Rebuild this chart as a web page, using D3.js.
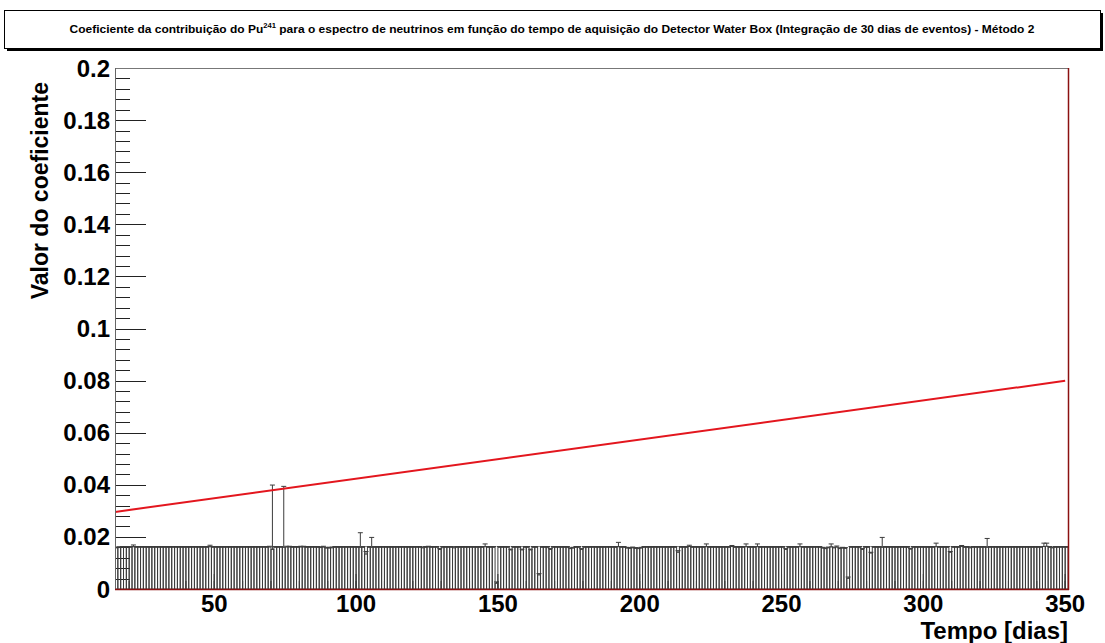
<!DOCTYPE html>
<html><head><meta charset="utf-8">
<script src="https://cdn.jsdelivr.net/npm/d3@7/dist/d3.min.js"></script>
<style>body{margin:0;background:#fff}svg{display:block}text{font-family:"Liberation Sans",Arial,sans-serif;font-weight:bold}</style>
</head><body><svg id="c" width="1105" height="643"></svg>
<script>
// Bins: one per day, starting day 15 (bin [d, d+1))
const firstDay = 15;
const values = [
0.0158,0.0159,0.0160,0.0160,0.0160,0.0160,0.0162,0.0160,0.0160,0.0160,
0.0160,0.0160,0.0160,0.0160,0.0160,0.0160,0.0160,0.0160,0.0160,0.0160,
0.0160,0.0160,0.0160,0.0160,0.0160,0.0160,0.0160,0.0160,0.0160,0.0160,
0.0160,0.0160,0.0160,0.0162,0.0160,0.0160,0.0160,0.0160,0.0160,0.0160,
0.0160,0.0160,0.0160,0.0160,0.0160,0.0160,0.0160,0.0160,0.0160,0.0160,
0.0160,0.0160,0.0160,0.0160,0.0161,0.0152,0.0160,0.0160,0.0160,0.0160,
0.0161,0.0161,0.0160,0.0160,0.0160,0.0161,0.0161,0.0160,0.0160,0.0160,
0.0160,0.0160,0.0159,0.0161,0.0157,0.0157,0.0158,0.0160,0.0160,0.0160,
0.0160,0.0160,0.0160,0.0160,0.0160,0.0160,0.0160,0.0160,0.0134,0.0160,
0.0160,0.0160,0.0160,0.0160,0.0160,0.0160,0.0160,0.0160,0.0160,0.0160,
0.0160,0.0160,0.0160,0.0160,0.0160,0.0160,0.0160,0.0160,0.0158,0.0160,
0.0161,0.0160,0.0160,0.0160,0.0152,0.0160,0.0160,0.0160,0.0160,0.0158,
0.0160,0.0160,0.0160,0.0160,0.0160,0.0160,0.0160,0.0160,0.0160,0.0160,
0.0162,0.0160,0.0160,0.0160,0.0022,0.0160,0.0160,0.0160,0.0160,0.0150,
0.0160,0.0160,0.0160,0.0150,0.0160,0.0160,0.0150,0.0160,0.0160,0.0054,
0.0160,0.0160,0.0160,0.0152,0.0160,0.0160,0.0160,0.0160,0.0160,0.0160,
0.0155,0.0157,0.0160,0.0160,0.0152,0.0160,0.0160,0.0160,0.0160,0.0160,
0.0160,0.0160,0.0160,0.0160,0.0160,0.0160,0.0160,0.0162,0.0160,0.0160,
0.0157,0.0156,0.0158,0.0156,0.0155,0.0157,0.0160,0.0160,0.0160,0.0160,
0.0160,0.0160,0.0160,0.0160,0.0160,0.0160,0.0160,0.0160,0.0141,0.0160,
0.0160,0.0160,0.0163,0.0160,0.0160,0.0160,0.0160,0.0160,0.0162,0.0160,
0.0160,0.0160,0.0160,0.0160,0.0160,0.0160,0.0160,0.0163,0.0160,0.0160,
0.0160,0.0160,0.0162,0.0160,0.0160,0.0160,0.0162,0.0160,0.0160,0.0160,
0.0160,0.0160,0.0160,0.0160,0.0160,0.0160,0.0152,0.0160,0.0160,0.0160,
0.0160,0.0162,0.0160,0.0160,0.0160,0.0160,0.0160,0.0160,0.0160,0.0157,
0.0155,0.0158,0.0162,0.0158,0.0161,0.0155,0.0157,0.0156,0.0041,0.0160,
0.0160,0.0160,0.0160,0.0152,0.0160,0.0160,0.0138,0.0160,0.0160,0.0160,
0.0160,0.0160,0.0160,0.0160,0.0160,0.0160,0.0160,0.0160,0.0160,0.0160,
0.0153,0.0160,0.0160,0.0160,0.0160,0.0160,0.0160,0.0160,0.0160,0.0162,
0.0160,0.0160,0.0160,0.0160,0.0141,0.0160,0.0160,0.0160,0.0163,0.0160,
0.0160,0.0158,0.0160,0.0160,0.0160,0.0160,0.0160,0.0160,0.0160,0.0160,
0.0160,0.0160,0.0160,0.0160,0.0160,0.0160,0.0160,0.0160,0.0160,0.0160,
0.0160,0.0160,0.0160,0.0160,0.0160,0.0160,0.0160,0.0163,0.0164,0.0160,
0.0158,0.0160,0.0160,0.0160,0.0160,0.0160
];
const errors = [
0.0003,0.0003,0.0003,0.0003,0.0003,0.0003,0.0007,0.0003,0.0003,0.0003,
0.0003,0.0003,0.0003,0.0003,0.0003,0.0003,0.0003,0.0003,0.0003,0.0003,
0.0003,0.0003,0.0003,0.0003,0.0003,0.0003,0.0003,0.0003,0.0003,0.0003,
0.0003,0.0003,0.0003,0.0006,0.0003,0.0003,0.0003,0.0003,0.0003,0.0003,
0.0003,0.0003,0.0003,0.0003,0.0003,0.0003,0.0003,0.0003,0.0003,0.0003,
0.0003,0.0003,0.0003,0.0003,0.0003,0.0247,0.0003,0.0003,0.0003,0.0234,
0.0003,0.0003,0.0003,0.0003,0.0003,0.0003,0.0003,0.0003,0.0003,0.0003,
0.0003,0.0003,0.0003,0.0003,0.0003,0.0003,0.0003,0.0003,0.0003,0.0003,
0.0003,0.0003,0.0003,0.0003,0.0003,0.0003,0.0056,0.0003,0.0010,0.0003,
0.0038,0.0003,0.0003,0.0003,0.0003,0.0003,0.0003,0.0003,0.0003,0.0003,
0.0003,0.0003,0.0003,0.0003,0.0003,0.0003,0.0003,0.0003,0.0003,0.0003,
0.0003,0.0003,0.0003,0.0003,0.0003,0.0003,0.0003,0.0003,0.0003,0.0004,
0.0003,0.0003,0.0003,0.0003,0.0003,0.0003,0.0003,0.0003,0.0003,0.0003,
0.0011,0.0003,0.0003,0.0003,0.0005,0.0003,0.0003,0.0003,0.0003,0.0003,
0.0003,0.0003,0.0003,0.0003,0.0003,0.0003,0.0003,0.0003,0.0003,0.0005,
0.0003,0.0003,0.0003,0.0003,0.0003,0.0003,0.0003,0.0003,0.0003,0.0003,
0.0003,0.0003,0.0003,0.0003,0.0003,0.0003,0.0003,0.0003,0.0003,0.0003,
0.0003,0.0003,0.0003,0.0003,0.0003,0.0003,0.0003,0.0017,0.0003,0.0003,
0.0003,0.0003,0.0003,0.0003,0.0003,0.0003,0.0003,0.0003,0.0003,0.0003,
0.0003,0.0003,0.0003,0.0003,0.0003,0.0003,0.0003,0.0003,0.0006,0.0003,
0.0003,0.0003,0.0005,0.0003,0.0003,0.0003,0.0003,0.0003,0.0011,0.0003,
0.0003,0.0003,0.0003,0.0003,0.0003,0.0003,0.0003,0.0004,0.0003,0.0003,
0.0003,0.0003,0.0011,0.0003,0.0003,0.0003,0.0011,0.0003,0.0003,0.0003,
0.0003,0.0003,0.0003,0.0003,0.0003,0.0003,0.0003,0.0003,0.0003,0.0003,
0.0003,0.0011,0.0003,0.0003,0.0003,0.0003,0.0003,0.0003,0.0003,0.0003,
0.0003,0.0003,0.0011,0.0003,0.0004,0.0003,0.0003,0.0003,0.0005,0.0003,
0.0003,0.0003,0.0003,0.0003,0.0003,0.0003,0.0003,0.0003,0.0003,0.0003,
0.0038,0.0003,0.0003,0.0003,0.0003,0.0003,0.0003,0.0003,0.0003,0.0003,
0.0003,0.0003,0.0003,0.0003,0.0003,0.0003,0.0003,0.0003,0.0003,0.0014,
0.0003,0.0003,0.0003,0.0003,0.0003,0.0003,0.0003,0.0003,0.0004,0.0003,
0.0003,0.0003,0.0003,0.0003,0.0003,0.0003,0.0003,0.0034,0.0003,0.0003,
0.0003,0.0003,0.0003,0.0003,0.0003,0.0003,0.0003,0.0003,0.0003,0.0003,
0.0003,0.0003,0.0003,0.0003,0.0003,0.0003,0.0003,0.0013,0.0012,0.0003,
0.0003,0.0003,0.0003,0.0003,0.0003,0.0003
];
// Fitted straight line (endpoints)
const fitX = [15, 350];
const fitY = [0.0296, 0.0799];
const xDomain = [15, 351];
const yDomain = [0, 0.2];
const xTickValues = [50, 100, 150, 200, 250, 300, 350];
const yTickValues = [0, 0.02, 0.04, 0.06, 0.08, 0.1, 0.12, 0.14, 0.16, 0.18, 0.2];
const yTickLabels = ["0","0.02","0.04","0.06","0.08","0.1","0.12","0.14","0.16","0.18","0.2"];

const svg = d3.select("#c");
const L = 115, R = 1068, T = 68, B = 589;
const x = d3.scaleLinear().domain(xDomain).range([L, R]);
const y = d3.scaleLinear().domain(yDomain).range([B, T]);

// Title box
svg.append("rect").attr("x", 7).attr("y", 13).attr("width", 1096).attr("height", 38).attr("fill", "#000");
svg.append("rect").attr("x", 4.5).attr("y", 10.5).attr("width", 1096).attr("height", 38).attr("fill", "#fff").attr("stroke", "#000").attr("stroke-width", 1);
const title = svg.append("text").attr("x", 552).attr("y", 33).attr("text-anchor", "middle").style("font-size", "11px");
title.append("tspan").text("Coeficiente da contribuição do Pu");
title.append("tspan").attr("dy", -5).style("font-size", "7px").text("241");
title.append("tspan").attr("dy", 5).text(" para o espectro de neutrinos em função do tempo de aquisição do Detector Water Box (Integração de 30 dias de eventos) - Método 2");
const tw = title.node().getComputedTextLength();
title.attr("transform", `translate(552,0) scale(${965/tw},1) translate(-552,0)`);

const bins = values.map((v, i) => ({x0: firstDay + i, x1: firstDay + i + 1, v, e: errors[i]}));
const g = svg.append("g");
svg.append("clipPath").attr("id", "pc").append("rect").attr("x", L).attr("y", T).attr("width", R - L).attr("height", B - T);
const pg = svg.append("g").attr("clip-path", "url(#pc)");

const barColor = "#3c3c3c";
// bars
pg.selectAll("rect.bar").data(bins).join("rect").attr("class", "bar")
  .attr("x", d => x(d.x0)).attr("width", d => x(d.x1) - x(d.x0))
  .attr("y", d => y(d.v)).attr("height", d => y(0) - y(d.v))
  .attr("fill", "none").attr("stroke", barColor).attr("stroke-width", 1);
// error bars (upper part)
pg.selectAll("line.err").data(bins).join("line").attr("class", "err")
  .attr("x1", d => x((d.x0 + d.x1) / 2)).attr("x2", d => x((d.x0 + d.x1) / 2))
  .attr("y1", d => y(d.v)).attr("y2", d => y(d.v + d.e))
  .attr("stroke", barColor).attr("stroke-width", 1);
pg.selectAll("line.cap").data(bins).join("line").attr("class", "cap")
  .attr("x1", d => x((d.x0 + d.x1) / 2) - 2.5).attr("x2", d => x((d.x0 + d.x1) / 2) + 2.5)
  .attr("y1", d => y(d.v + d.e)).attr("y2", d => y(d.v + d.e))
  .attr("stroke", barColor).attr("stroke-width", 1);

// fit line
pg.append("line").attr("x1", x(fitX[0])).attr("y1", y(fitY[0])).attr("x2", x(fitX[1])).attr("y2", y(fitY[1]))
  .attr("stroke", "#e3161e").attr("stroke-width", 2);

// Y axis ticks (inside)
const yMinor = d3.range(0, 0.2001, 0.004);
g.selectAll("line.ymin").data(yMinor).join("line").attr("x1", L).attr("x2", L + 15)
  .attr("y1", d => Math.round(y(d)) + 0.5).attr("y2", d => Math.round(y(d)) + 0.5).attr("stroke", "#222");
g.selectAll("line.ymaj").data(yTickValues).join("line").attr("x1", L).attr("x2", L + 31)
  .attr("y1", d => Math.round(y(d)) + 0.5).attr("y2", d => Math.round(y(d)) + 0.5).attr("stroke", "#222");
// X axis ticks
const xMinor = d3.range(20, 351, 10);
g.selectAll("line.xmin").data(xMinor).join("line").attr("y1", B).attr("y2", B - 8)
  .attr("x1", d => x(d)).attr("x2", d => x(d)).attr("stroke", "#222");
g.selectAll("line.xmaj").data(xTickValues).join("line").attr("y1", B).attr("y2", B - 15)
  .attr("x1", d => x(d)).attr("x2", d => x(d)).attr("stroke", "#222");

// frame
svg.append("line").attr("x1", L).attr("x2", R).attr("y1", T + 0.5).attr("y2", T + 0.5).attr("stroke", "#777");
svg.append("line").attr("x1", L + 0.5).attr("x2", L + 0.5).attr("y1", T).attr("y2", B).attr("stroke", "#666");
svg.append("line").attr("x1", R + 0.5).attr("x2", R + 0.5).attr("y1", T).attr("y2", B + 1).attr("stroke", "#8b1010").attr("stroke-width", 1.5);
svg.append("line").attr("x1", L).attr("x2", R + 1).attr("y1", B + 0.5).attr("y2", B + 0.5).attr("stroke", "#8b1010").attr("stroke-width", 1.5);

// tick labels
svg.selectAll("text.yl").data(yTickValues).join("text").attr("class", "yl")
  .attr("x", 110).attr("y", d => y(d) + 8.5).attr("text-anchor", "end").style("font-size", "24px")
  .text((d, i) => yTickLabels[i]);
svg.selectAll("text.xl").data(xTickValues).join("text").attr("class", "xl")
  .attr("x", d => x(d)).attr("y", 612).attr("text-anchor", "middle").style("font-size", "24px")
  .text(d => d);

// axis titles
svg.append("text").attr("x", 1068).attr("y", 639).attr("text-anchor", "end").style("font-size", "24px").text("Tempo [dias]");
svg.append("text").attr("transform", "translate(48,82) rotate(-90)").attr("text-anchor", "end").style("font-size", "23px").text("Valor do coeficiente");
</script></body></html>
